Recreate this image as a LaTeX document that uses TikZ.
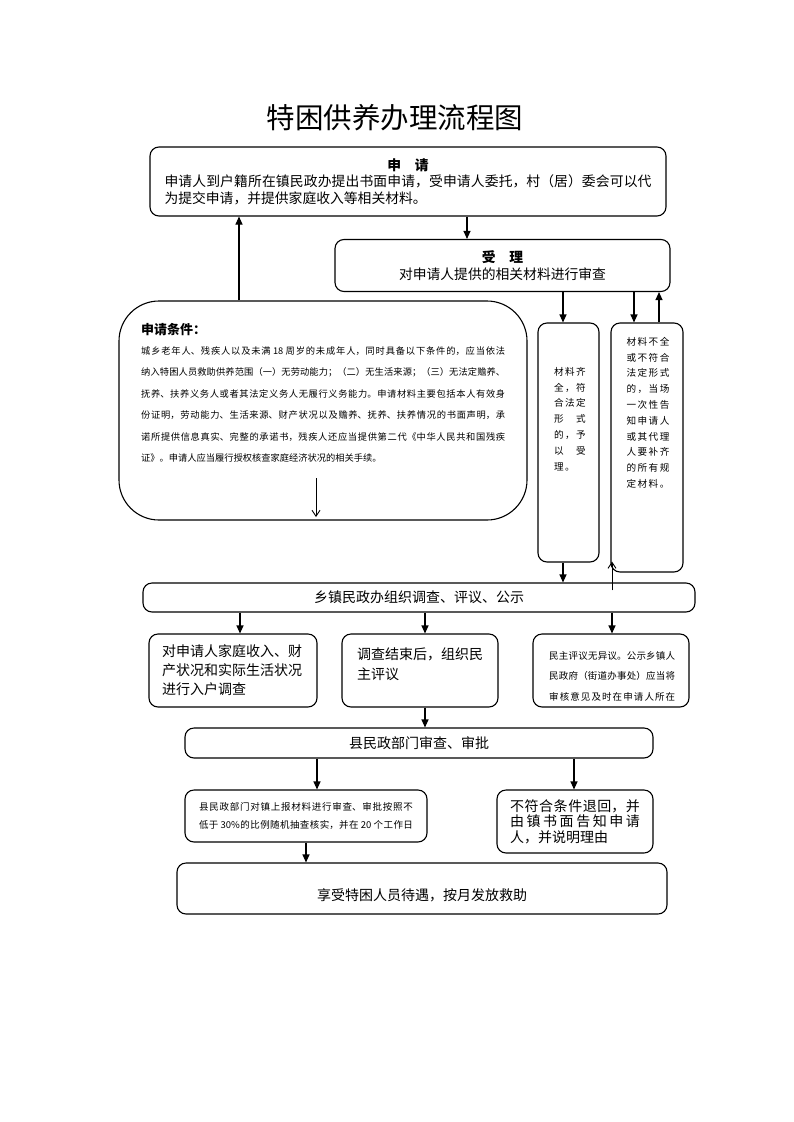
\documentclass[tikz,border=0pt]{standalone}
\usepackage{fontspec}
\setmainfont{Noto Sans CJK SC}
\newfontfamily\lsfont[LetterSpace=15]{Noto Sans CJK SC}
\usetikzlibrary{arrows.meta}
\newcommand\zhj{\XeTeXlinebreaklocale "zh"\XeTeXlinebreakskip=0pt plus 3pt\tolerance=9999\relax}
\newcommand\fs[2]{\fontsize{#1}{#2}\selectfont}
\begin{document}
\begin{tikzpicture}[x=1pt,y=-1pt,
  box/.style={draw, line width=1.1pt, rounded corners=9pt, inner sep=0pt},
  arr/.style={line width=1.1pt, -{Triangle[length=8pt,width=7pt]}},
  oarr/.style={line width=0.9pt, -{Straight Barb[length=6pt,width=8pt]}},
  txt/.style={inner sep=0pt}]
\useasboundingbox (0,0) rectangle (793,1122);

\node[txt, font=\fs{28.5}{32}] (title) at (395,118) {特困供养办理流程图};

\node[box, minimum width=516, minimum height=69, text width=487, align=justify, font={\fs{13.8}{16.5}\zhj}] (apply) at (408,181.5)
  {{\centering\bfseries 申　请\par}申请人到户籍所在镇民政办提出书面申请，受申请人委托，村（居）委会可以代\linebreak 为提交申请，并提供家庭收入等相关材料。};

\node[box, minimum width=335, minimum height=52, align=center, font={\fs{13.8}{16.5}}] (accept) at (502.5,265.5)
  {{\bfseries 受　理}\\对申请人提供的相关材料进行审查};

\node[box, rounded corners=40pt, minimum width=408, minimum height=219] (cond) at (323,410.5) {};
\node[txt, anchor=west, font={\fs{13}{15}\bfseries}] (condt) at (141,330) {申请条件：};
\node[txt, anchor=north west, text width=364, align=justify, font={\fs{9.25}{21.5}\zhj}] (condb) at (141,346)
  {城乡老年人、残疾人以及未满 18 周岁的未成年人，同时具备以下条件的，应当依法\linebreak
   纳入特困人员救助供养范围（一）无劳动能力；（二）无生活来源；（三）无法定赡养、\linebreak
   抚养、扶养义务人或者其法定义务人无履行义务能力。申请材料主要包括本人有效身\linebreak
   份证明，劳动能力、生活来源、财产状况以及赡养、抚养、扶养情况的书面声明，承\linebreak
   诺所提供信息真实、完整的承诺书，残疾人还应当提供第二代《中华人民共和国残疾\linebreak
   证》。申请人应当履行授权核查家庭经济状况的相关手续。};
\coordinate (ca1) at (316,478);
\coordinate (ca2) at (316,517);
\draw[oarr] (ca1) -- (ca2);

\node[box, minimum width=61, minimum height=239] (ok) at (568.5,442.5) {};
\node[txt, anchor=north, align=left, font={\fs{9.6}{15.8}\lsfont}] (okt) at (570,367)
  {材料齐\\全，符\\合法定\\形　式\\的，予\\以　受\\理。};

\node[box, minimum width=72, minimum height=249] (nok) at (647,447.5) {};
\node[txt, anchor=north, align=left, font={\fs{9.6}{15.8}\lsfont}] (nokt) at (648,337)
  {材料不全\\或不符合\\法定形式\\的，当场\\一次性告\\知申请人\\或其代理\\人要补齐\\的所有规\\定材料。};

\node[box, minimum width=552, minimum height=29, font={\fs{14}{16}}] (town) at (419,597.5) {乡镇民政办组织调查、评议、公示};

\node[box, minimum width=168, minimum height=73, text width=142, inner xsep=13, align=left, font={\fs{14}{19}}] (boxA) at (233,670.5)
  {对申请人家庭收入、财\\产状况和实际生活状况\\进行入户调查};

\node[box, minimum width=156, minimum height=73] (boxB) at (420,670.5) {};
\node[txt, anchor=north west, align=left, font={\fs{14}{20}}] (boxBt) at (357,648) {调查结束后，组织民\\主评议};

\node[box, minimum width=156, minimum height=73] (boxC) at (611,670.5) {};
\node[txt, anchor=north west, text width=126, align=justify, font={\fs{9.5}{20.5}\zhj}] (boxCt) at (549,651)
  {{\parfillskip=0pt 民主评议无异议。公示乡镇人\linebreak 民政府（街道办事处）应当将\linebreak 审核意见及时在申请人所在\par}};

\node[box, minimum width=468, minimum height=30, font={\fs{14}{16}}] (county) at (419,743) {县民政部门审查、审批};

\node[box, minimum width=242, minimum height=52, text width=214, inner xsep=14, align=justify, font={\fs{9.5}{18}\zhj}] (boxD) at (306,816)
  {{\parfillskip=0pt 县民政部门对镇上报材料进行审查、审批按照不\linebreak 低于 30\%的比例随机抽查核实，并在 20 个工作日\par}};

\node[box, minimum width=156, minimum height=63, text width=130, inner xsep=13, align=justify, font={\fs{14}{15.5}\zhj}] (boxE) at (575,821.5)
  {不符合条件退回，并\linebreak 由镇书面告知申请\linebreak 人，并说明理由};

\node[box, minimum width=490, minimum height=51, font={\fs{14}{16}}, text height=23pt, text depth=0pt] (final) at (422,888.5)
  {享受特困人员待遇，按月发放救助};

\draw[arr] (467,0 |- apply.south) -- (467,0 |- accept.north);
\draw[arr] (239,0 |- cond.north) -- (239,0 |- apply.south);
\draw[arr] (563,0 |- accept.south) -- (563,0 |- ok.north);
\draw[arr] (634,0 |- accept.south) -- (634,0 |- nok.north);
\draw[arr] (659,0 |- nok.north) -- (659,0 |- accept.south);
\draw[arr] (563,0 |- ok.south) -- (563,0 |- town.north);
\draw[oarr] ([yshift=-8pt]612,0 |- town.north) -- ([yshift=11pt]612,0 |- nok.south);
\draw[arr] (240,0 |- town.south) -- (240,0 |- boxA.north);
\draw[arr] (425,0 |- town.south) -- (425,0 |- boxB.north);
\draw[arr] (612,0 |- town.south) -- (612,0 |- boxC.north);
\draw[arr] (425,0 |- boxB.south) -- (425,0 |- county.north);
\draw[arr] (317,0 |- county.south) -- (317,0 |- boxD.north);
\draw[arr] (574,0 |- county.south) -- (574,0 |- boxE.north);
\draw[arr] (306,0 |- boxD.south) -- (306,0 |- final.north);
\end{tikzpicture}
\end{document}
